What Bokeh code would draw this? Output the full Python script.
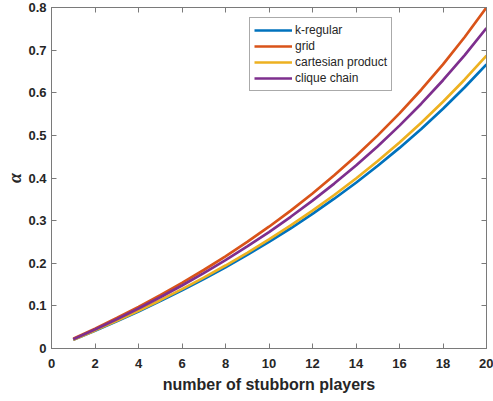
from bokeh.plotting import figure
from bokeh.models import (Range1d, LinearAxis, FixedTicker, Legend, LegendItem,
                          CustomJSTickFormatter)
from bokeh.embed import file_html
from bokeh.resources import INLINE

# ---- data ----
players = [1, 2, 3, 4, 5, 6, 7, 8, 9, 10, 11, 12, 13, 14, 15, 16, 17, 18, 19, 20]
k_regular = [0.0204, 0.0417, 0.0638, 0.0870, 0.1111, 0.1364, 0.1628, 0.1905, 0.2195, 0.2500,
             0.2821, 0.3158, 0.3514, 0.3889, 0.4286, 0.4706, 0.5152, 0.5625, 0.6129, 0.6667]
grid_vals = [0.0227, 0.0465, 0.0714, 0.0976, 0.1250, 0.1538, 0.1842, 0.2162, 0.2500, 0.2857,
             0.3235, 0.3636, 0.4063, 0.4516, 0.5000, 0.5517, 0.6071, 0.6667, 0.7308, 0.8000]
cartesian = [0.0208, 0.0425, 0.0651, 0.0887, 0.1134, 0.1392, 0.1663, 0.1946, 0.2244, 0.2558,
             0.2887, 0.3235, 0.3601, 0.3989, 0.4399, 0.4834, 0.5296, 0.5788, 0.6312, 0.6873]
clique = [0.0219, 0.0448, 0.0688, 0.0939, 0.1202, 0.1478, 0.1768, 0.2073, 0.2394, 0.2732,
          0.3090, 0.3468, 0.3869, 0.4294, 0.4747, 0.5229, 0.5743, 0.6294, 0.6884, 0.7519]

series_names = ["k-regular", "grid", "cartesian product", "clique chain"]
series_vals = [k_regular, grid_vals, cartesian, clique]
series_colors = ["#0072BD", "#D95319", "#EDB120", "#7E2F8E"]

x_ticks = [0, 2, 4, 6, 8, 10, 12, 14, 16, 18, 20]
y_ticks = [0, 0.1, 0.2, 0.3, 0.4, 0.5, 0.6, 0.7, 0.8]

AX = "#7a7a7a"
TXT = "#262626"
FONT = "Liberation Sans"

p = figure(width=493, height=401, output_backend="svg", toolbar_location=None,
           x_range=Range1d(0, 20), y_range=Range1d(0, 0.8),
           min_border_left=51, min_border_right=7, min_border_top=7, min_border_bottom=53,
           background_fill_color="white", border_fill_color="white")
p.grid.visible = False
p.outline_line_color = AX
p.outline_line_width = 1

fmt = CustomJSTickFormatter(code="return (Math.round(tick*10)/10).toString();")
blank = CustomJSTickFormatter(code="return '';")

for ax in p.xaxis:
    ax.ticker = FixedTicker(ticks=x_ticks)
for ax in p.yaxis:
    ax.ticker = FixedTicker(ticks=y_ticks)
    ax.formatter = fmt

for ax in list(p.xaxis) + list(p.yaxis):
    ax.axis_line_color = AX
    ax.major_tick_line_color = AX
    ax.major_tick_in = 5
    ax.major_tick_out = 0
    ax.minor_tick_line_color = None
    ax.major_label_text_font = FONT
    ax.major_label_text_font_style = "bold"
    ax.major_label_text_font_size = "13px"
    ax.major_label_text_color = TXT

p.xaxis.major_label_standoff = 10
p.yaxis.major_label_standoff = 5
p.xaxis.axis_label = "number of stubborn players"
p.xaxis.axis_label_text_font = FONT
p.xaxis.axis_label_text_font_style = "bold"
p.xaxis.axis_label_text_font_size = "16px"
p.xaxis.axis_label_text_color = TXT
p.xaxis.axis_label_standoff = 5

p.yaxis.axis_label = "α"
p.yaxis.axis_label_text_font = "Liberation Serif"
p.yaxis.axis_label_text_font_style = "bold italic"
p.yaxis.axis_label_text_font_size = "18px"
p.yaxis.axis_label_text_color = TXT
p.yaxis.axis_label_standoff = 0

# box axes (top / right) with inward ticks, no labels
top = LinearAxis(ticker=FixedTicker(ticks=x_ticks), formatter=blank,
                 major_label_standoff=0, axis_line_color=AX, major_tick_line_color=AX,
                 major_tick_in=5, major_tick_out=0, minor_tick_line_color=None)
right = LinearAxis(ticker=FixedTicker(ticks=y_ticks), formatter=blank,
                   major_label_standoff=0, axis_line_color=AX, major_tick_line_color=AX,
                   major_tick_in=5, major_tick_out=0, minor_tick_line_color=None)
p.add_layout(top, "above")
p.add_layout(right, "right")

items = []
for name, vals, col in zip(series_names, series_vals, series_colors):
    r = p.line(players, vals, line_color=col, line_width=2.7)
    items.append(LegendItem(label=name, renderers=[r]))

legend = Legend(items=items, location=(198, 257), orientation="vertical",
                label_text_font=FONT, label_text_font_size="12px", label_text_color=TXT,
                glyph_width=38, glyph_height=16, label_height=16, label_standoff=3,
                spacing=0, padding=4, margin=0,
                border_line_color="#555555", border_line_width=1,
                background_fill_color="white", background_fill_alpha=1)
p.add_layout(legend, "center")

open("out.html", "w").write(file_html(p, INLINE))
